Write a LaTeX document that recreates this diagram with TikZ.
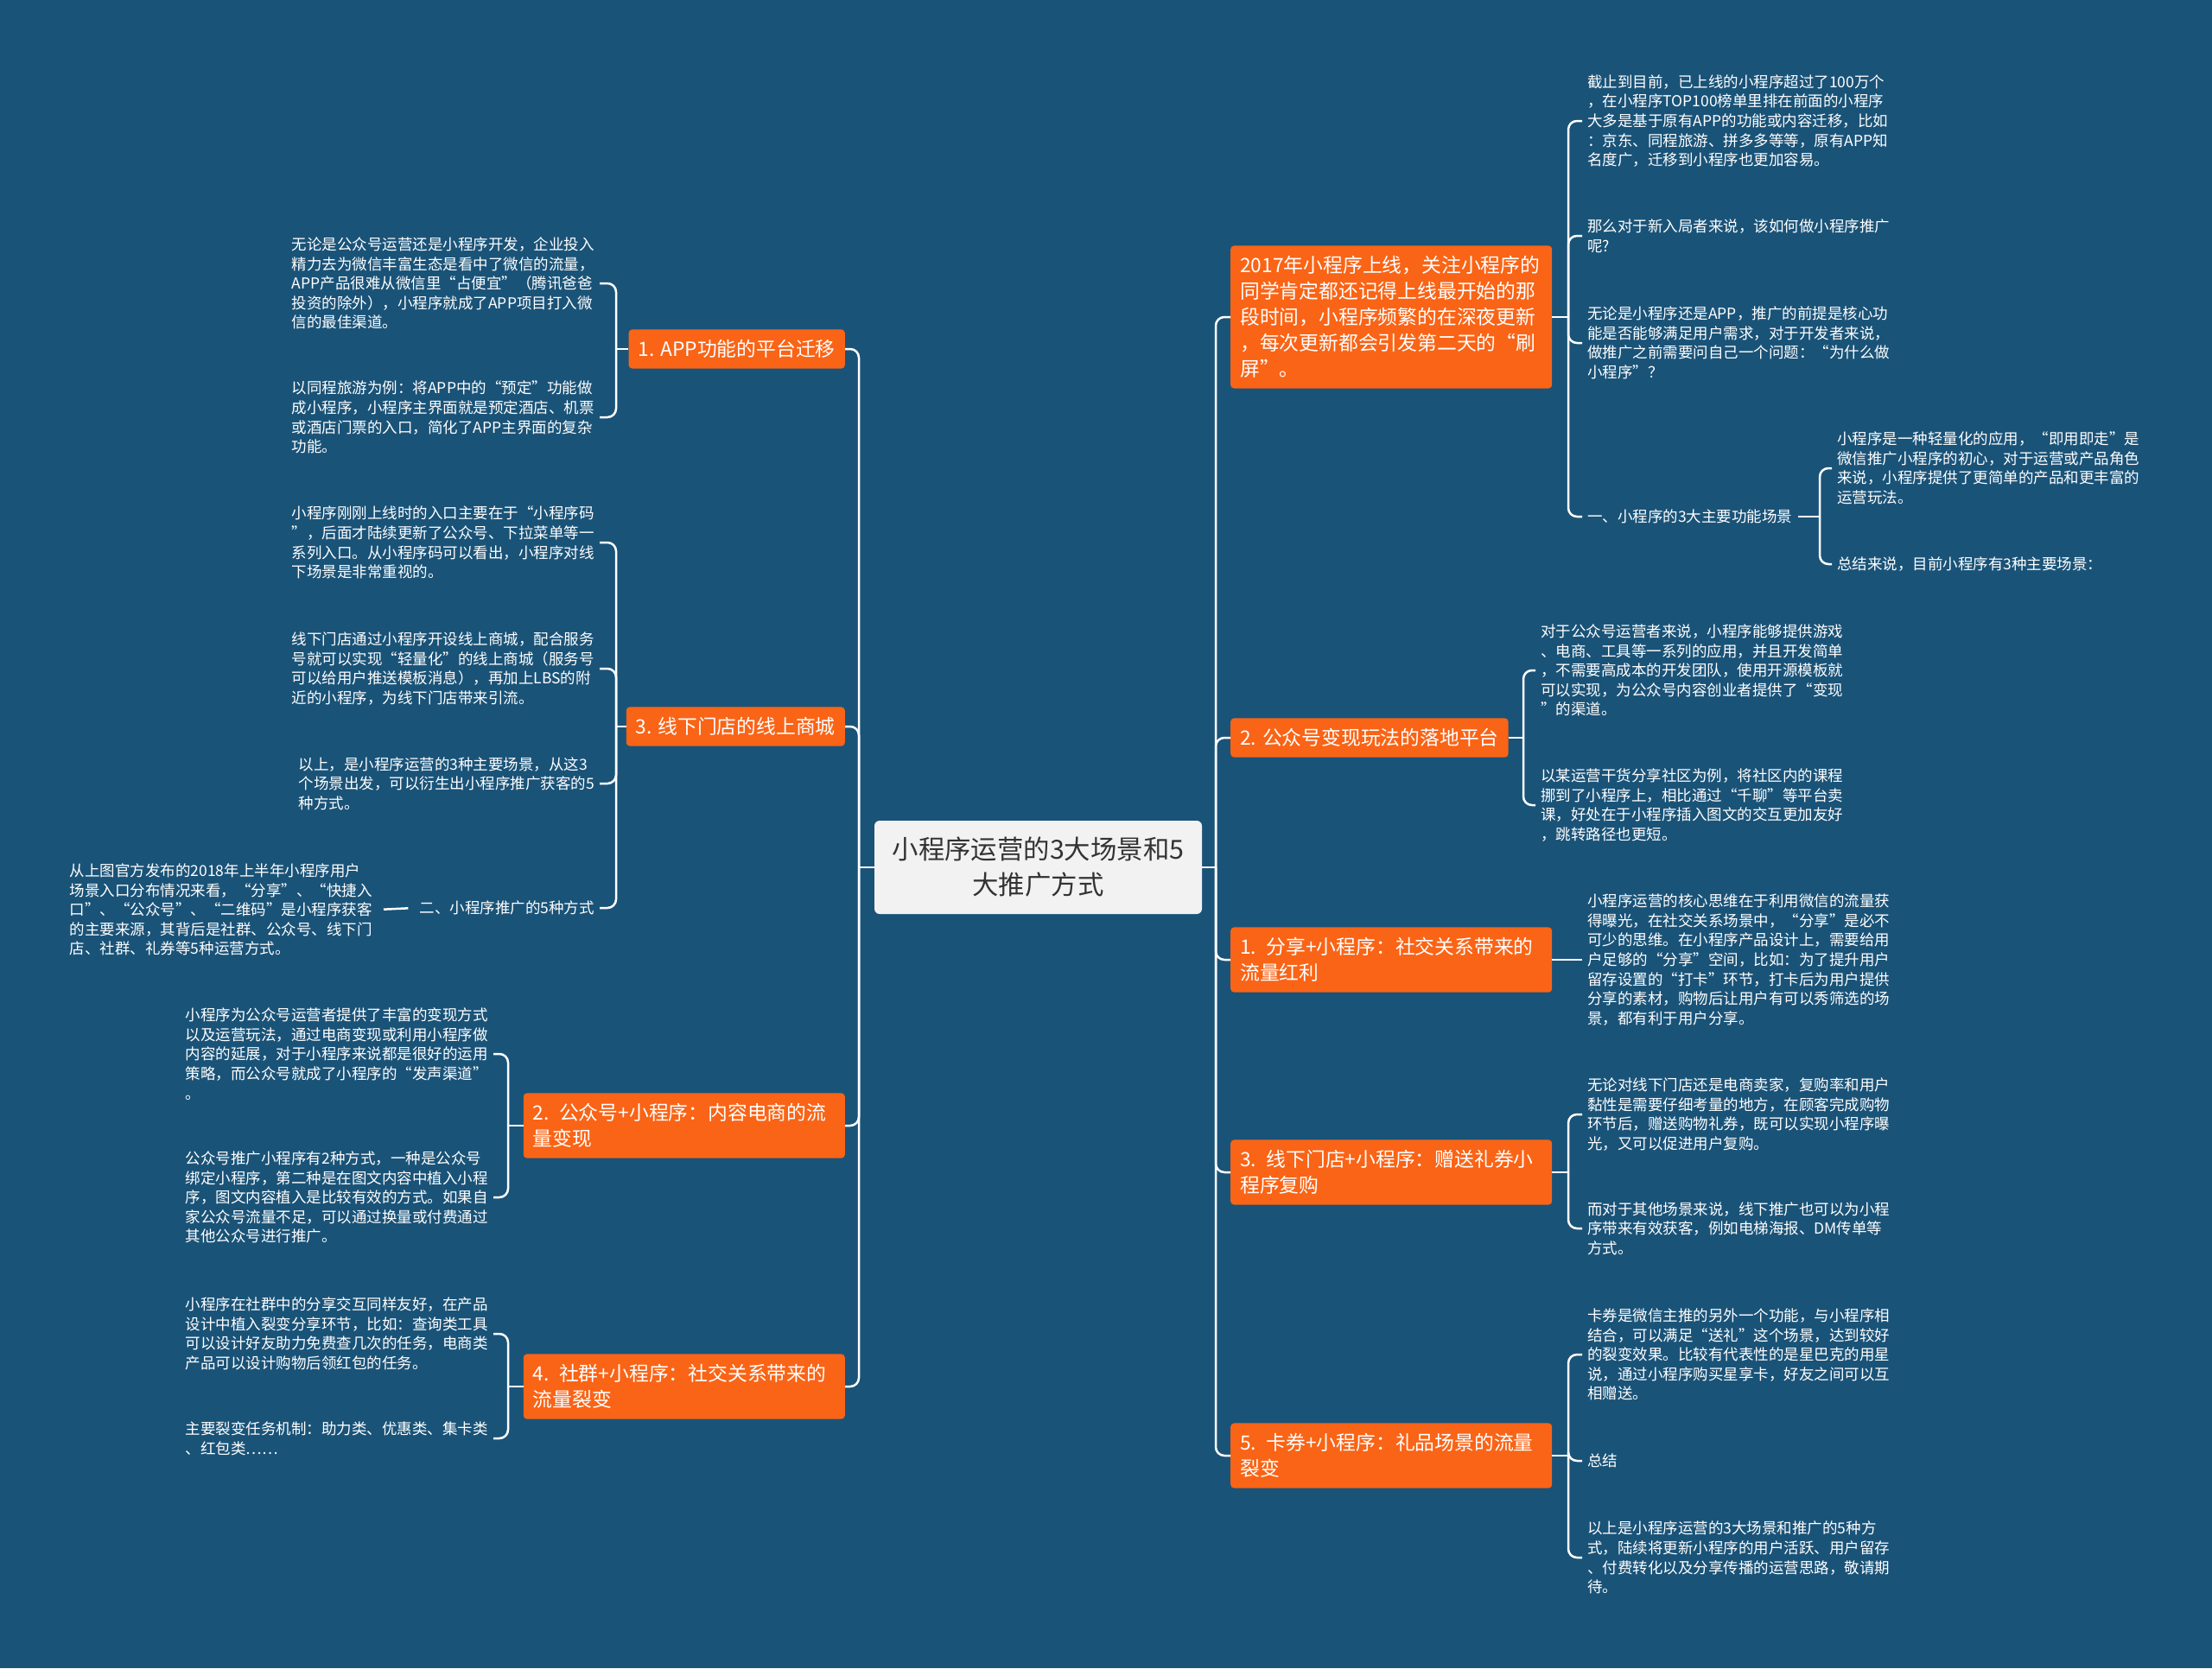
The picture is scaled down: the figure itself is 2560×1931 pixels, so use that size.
\documentclass[tikz,border=0pt]{standalone}
\usepackage{fontspec}
\setmainfont{Noto Sans CJK SC}
\definecolor{bgc}{HTML}{1A5378}
\definecolor{orc}{HTML}{FA6416}
\definecolor{cfill}{HTML}{F2F2F2}
\definecolor{ctext}{HTML}{333333}
\newcommand\myleaffont{\fontsize{17.5}{22.6}\selectfont}
\newcommand\myboxfont{\fontsize{22.8}{30}\selectfont}
\newcommand\mycenterfont{\fontsize{30.4}{41}\selectfont}
\tikzset{
  leaf/.style={text=white, font=\myleaffont, align=left, inner xsep=6pt, inner ysep=3pt},
  obox/.style={fill=orc, text=white, rounded corners=4pt, font=\myboxfont, align=left, inner xsep=11pt, inner ysep=12pt},
  wbox/.style={obox, text width=350pt},
  conn/.style={draw=white, line width=2.5pt, rounded corners=10pt},
}
\begin{document}
\begin{tikzpicture}[x=1pt, y=-1pt]
\fill[bgc] (0,0) rectangle (2560,1931);
\useasboundingbox (0,0) rectangle (2560,1931);

% center
\node[fill=cfill, text=ctext, rounded corners=6pt, font=\mycenterfont, align=center, minimum width=379pt, minimum height=108pt] (C) at (1201.5,1004) {小程序运营的3大场景和5\\大推广方式};

% right boxes
\node[wbox, anchor=west] (R1) at (1424,367) {2017年小程序上线，关注小程序的\\同学肯定都还记得上线最开始的那\\段时间，小程序频繁的在深夜更新\\，每次更新都会引发第二天的“刷\\屏”。};
\node[obox, anchor=west] (R2) at (1424,854) {2. 公众号变现玩法的落地平台};
\node[wbox, anchor=west] (R3) at (1424,1111) {1. 分享+小程序：社交关系带来的\\流量红利};
\node[wbox, anchor=west] (R4) at (1424,1357) {3. 线下门店+小程序：赠送礼券小\\程序复购};
\node[wbox, anchor=west] (R5) at (1424,1685) {5. 卡券+小程序：礼品场景的流量\\裂变};

% left boxes
\node[obox, anchor=east] (L1) at (978,404) {1. APP功能的平台迁移};
\node[obox, anchor=east] (L2) at (978,841) {3. 线下门店的线上商城};
\node[wbox, anchor=east] (L3) at (978,1303) {2. 公众号+小程序：内容电商的流\\量变现};
\node[wbox, anchor=east] (L4) at (978,1605) {4. 社群+小程序：社交关系带来的\\流量裂变};

% trunks
\coordinate (rt) at (1407,1004);
\coordinate (lt) at (994,1004);
\draw[conn] (C.east) -- (rt);
\draw[conn] (C.west) -- (lt);
\foreach \n in {R1,R2,R3,R4,R5} \draw[conn] (rt) |- (\n.west);
\foreach \n in {L1,L2,L3,L4} \draw[conn] (lt) |- (\n.east);

% R1 leaves
\node[leaf, anchor=west] (a1) at (1831,140) {截止到目前，已上线的小程序超过了100万个\\，在小程序TOP100榜单里排在前面的小程序\\大多是基于原有APP的功能或内容迁移，比如\\：京东、同程旅游、拼多多等等，原有APP知\\名度广，迁移到小程序也更加容易。};
\node[leaf, anchor=west] (a2) at (1831,273) {那么对于新入局者来说，该如何做小程序推广\\呢?};
\node[leaf, anchor=west] (a3) at (1831,397) {无论是小程序还是APP，推广的前提是核心功\\能是否能够满足用户需求，对于开发者来说，\\做推广之前需要问自己一个问题：“为什么做\\小程序”？};
\node[leaf, anchor=west] (a4) at (1831,598) {一、小程序的3大主要功能场景};
\coordinate (r1j) at (1815,367);
\draw[conn] (R1.east) -- (r1j);
\foreach \n in {a1,a2,a3,a4} \draw[conn] (r1j) |- (\n.west);

\node[leaf, anchor=west] (b1) at (2120,542) {小程序是一种轻量化的应用，“即用即走”是\\微信推广小程序的初心，对于运营或产品角色\\来说，小程序提供了更简单的产品和更丰富的\\运营玩法。};
\node[leaf, anchor=west] (b2) at (2120,653) {总结来说，目前小程序有3种主要场景：};
\coordinate (a4j) at (2106,598);
\draw[conn] (a4.east) -- (a4j);
\foreach \n in {b1,b2} \draw[conn] (a4j) |- (\n.west);

% R2 leaves
\node[leaf, anchor=west] (c1) at (1777,776) {对于公众号运营者来说，小程序能够提供游戏\\、电商、工具等一系列的应用，并且开发简单\\，不需要高成本的开发团队，使用开源模板就\\可以实现，为公众号内容创业者提供了“变现\\”的渠道。};
\node[leaf, anchor=west] (c2) at (1777,932) {以某运营干货分享社区为例，将社区内的课程\\挪到了小程序上，相比通过“千聊”等平台卖\\课，好处在于小程序插入图文的交互更加友好\\，跳转路径也更短。};
\coordinate (r2j) at (1763,854);
\draw[conn] (R2.east) -- (r2j);
\foreach \n in {c1,c2} \draw[conn] (r2j) |- (\n.west);

% R3 leaf
\node[leaf, anchor=west] (d1) at (1831,1111) {小程序运营的核心思维在于利用微信的流量获\\得曝光，在社交关系场景中，“分享”是必不\\可少的思维。在小程序产品设计上，需要给用\\户足够的“分享”空间，比如：为了提升用户\\留存设置的“打卡”环节，打卡后为用户提供\\分享的素材，购物后让用户有可以秀筛选的场\\景，都有利于用户分享。};
\draw[conn] (R3.east) -- (d1.west);

% R4 leaves
\node[leaf, anchor=west] (e1) at (1831,1290) {无论对线下门店还是电商卖家，复购率和用户\\黏性是需要仔细考量的地方，在顾客完成购物\\环节后，赠送购物礼券，既可以实现小程序曝\\光，又可以促进用户复购。};
\node[leaf, anchor=west] (e2) at (1831,1422) {而对于其他场景来说，线下推广也可以为小程\\序带来有效获客，例如电梯海报、DM传单等\\方式。};
\coordinate (r4j) at (1815,1357);
\draw[conn] (R4.east) -- (r4j);
\foreach \n in {e1,e2} \draw[conn] (r4j) |- (\n.west);

% R5 leaves
\node[leaf, anchor=west] (f1) at (1831,1568) {卡券是微信主推的另外一个功能，与小程序相\\结合，可以满足“送礼”这个场景，达到较好\\的裂变效果。比较有代表性的是星巴克的用星\\说，通过小程序购买星享卡，好友之间可以互\\相赠送。};
\node[leaf, anchor=west] (f2) at (1831,1691) {总结};
\node[leaf, anchor=west] (f3) at (1831,1803) {以上是小程序运营的3大场景和推广的5种方\\式，陆续将更新小程序的用户活跃、用户留存\\、付费转化以及分享传播的运营思路，敬请期\\待。};
\coordinate (r5j) at (1815,1685);
\draw[conn] (R5.east) -- (r5j);
\foreach \n in {f1,f2,f3} \draw[conn] (r5j) |- (\n.west);

% L1 leaves
\node[leaf, anchor=east] (g1) at (694,328) {无论是公众号运营还是小程序开发，企业投入\\精力去为微信丰富生态是看中了微信的流量，\\APP产品很难从微信里“占便宜”（腾讯爸爸\\投资的除外），小程序就成了APP项目打入微\\信的最佳渠道。};
\node[leaf, anchor=east] (g2) at (694,483) {以同程旅游为例：将APP中的“预定”功能做\\成小程序，小程序主界面就是预定酒店、机票\\或酒店门票的入口，简化了APP主界面的复杂\\功能。};
\coordinate (l1j) at (713,404);
\draw[conn] (L1.west) -- (l1j);
\foreach \n in {g1,g2} \draw[conn] (l1j) |- (\n.east);

% L2 leaves
\node[leaf, anchor=east] (h1) at (694,628) {小程序刚刚上线时的入口主要在于“小程序码\\”，后面才陆续更新了公众号、下拉菜单等一\\系列入口。从小程序码可以看出，小程序对线\\下场景是非常重视的。};
\node[leaf, anchor=east] (h2) at (694,774) {线下门店通过小程序开设线上商城，配合服务\\号就可以实现“轻量化”的线上商城（服务号\\可以给用户推送模板消息），再加上LBS的附\\近的小程序，为线下门店带来引流。};
\node[leaf, anchor=east] (h3) at (694,907) {以上，是小程序运营的3种主要场景，从这3\\个场景出发，可以衍生出小程序推广获客的5\\种方式。};
\node[leaf, anchor=east] (h4) at (694,1051) {二、小程序推广的5种方式};
\coordinate (l2j) at (713,841);
\draw[conn] (L2.west) -- (l2j);
\foreach \n in {h1,h2,h3,h4} \draw[conn] (l2j) |- (\n.east);

\node[leaf, anchor=east] (i1) at (437,1053) {从上图官方发布的2018年上半年小程序用户\\场景入口分布情况来看，“分享”、“快捷入\\口”、“公众号”、“二维码”是小程序获客\\的主要来源，其背后是社群、公众号、线下门\\店、社群、礼券等5种运营方式。};
\draw[conn, shorten <=7pt, shorten >=7pt] (i1.east) -- (h4.west);

% L3 leaves
\node[leaf, anchor=east] (j1) at (571,1220) {小程序为公众号运营者提供了丰富的变现方式\\以及运营玩法，通过电商变现或利用小程序做\\内容的延展，对于小程序来说都是很好的运用\\策略，而公众号就成了小程序的“发声渠道”\\。};
\node[leaf, anchor=east] (j2) at (571,1386) {公众号推广小程序有2种方式，一种是公众号\\绑定小程序，第二种是在图文内容中植入小程\\序，图文内容植入是比较有效的方式。如果自\\家公众号流量不足，可以通过换量或付费通过\\其他公众号进行推广。};
\coordinate (l3j) at (588,1303);
\draw[conn] (L3.west) -- (l3j);
\foreach \n in {j1,j2} \draw[conn] (l3j) |- (\n.east);

% L4 leaves
\node[leaf, anchor=east] (k1) at (571,1544) {小程序在社群中的分享交互同样友好，在产品\\设计中植入裂变分享环节，比如：查询类工具\\可以设计好友助力免费查几次的任务，电商类\\产品可以设计购物后领红包的任务。};
\node[leaf, anchor=east] (k2) at (571,1665) {主要裂变任务机制：助力类、优惠类、集卡类\\、红包类……};
\coordinate (l4j) at (588,1605);
\draw[conn] (L4.west) -- (l4j);
\foreach \n in {k1,k2} \draw[conn] (l4j) |- (\n.east);
\end{tikzpicture}
\end{document}
